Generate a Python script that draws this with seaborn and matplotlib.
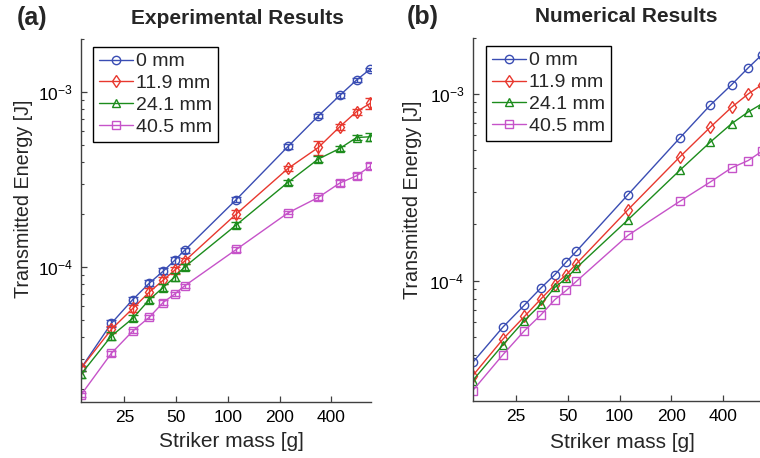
import numpy as np
import pandas as pd
import matplotlib
matplotlib.use("Agg")
import matplotlib.pyplot as plt
from matplotlib.ticker import NullLocator, NullFormatter, FixedLocator, FixedFormatter
import seaborn as sns

# striker masses [g]
masses = [14, 21, 28, 35, 42, 49, 56, 112, 224, 336, 448, 560, 672]
labels = ["0 mm", "11.9 mm", "24.1 mm", "40.5 mm"]

# experimental transmitted energy [J]
exp_0 = [2.64e-5, 4.76e-5, 6.52e-5, 8.1e-5, 9.45e-5, 1.09e-4, 1.245e-4, 2.43e-4, 4.89e-4, 7.3e-4, 9.57e-4, 1.17e-3, 1.35e-3]
exp_119 = [2.64e-5, 4.40e-5, 5.8e-5, 7.2e-5, 8.4e-5, 9.58e-5, 1.08e-4, 2.01e-4, 3.66e-4, 4.82e-4, 6.34e-4, 7.72e-4, 8.6e-4]
exp_241 = [2.44e-5, 4.03e-5, 5.09e-5, 6.52e-5, 7.63e-5, 8.77e-5, 1.0e-4, 1.74e-4, 3.05e-4, 4.14e-4, 4.76e-4, 5.49e-4, 5.55e-4]
exp_405 = [1.86e-5, 3.21e-5, 4.31e-5, 5.17e-5, 6.27e-5, 7.0e-5, 7.8e-5, 1.26e-4, 2.04e-4, 2.50e-4, 3.02e-4, 3.32e-4, 3.76e-4]

# relative error of the experiments
err_0 = [0.03, 0.05, 0.04, 0.04, 0.04, 0.04, 0.03, 0.03, 0.03, 0.03, 0.03, 0.03, 0.02]
err_119 = [0.03, 0.05, 0.04, 0.05, 0.05, 0.05, 0.04, 0.05, 0.03, 0.09, 0.04, 0.04, 0.07]
err_241 = [0.05, 0.05, 0.04, 0.04, 0.05, 0.05, 0.04, 0.04, 0.03, 0.04, 0.03, 0.03, 0.05]
err_405 = [0.03, 0.03, 0.03, 0.03, 0.03, 0.03, 0.03, 0.03, 0.02, 0.03, 0.04, 0.04, 0.04]

# numerical transmitted energy [J]
num_0 = [3.65e-5, 5.65e-5, 7.41e-5, 9.17e-5, 1.077e-4, 1.26e-4, 1.435e-4, 2.89e-4, 5.81e-4, 8.69e-4, 1.12e-3, 1.38e-3, 1.62e-3]
num_119 = [3.10e-5, 4.87e-5, 6.44e-5, 8.01e-5, 9.52e-5, 1.077e-4, 1.23e-4, 2.40e-4, 4.60e-4, 6.62e-4, 8.48e-4, 1.0e-3, 1.12e-3]
num_241 = [2.92e-5, 4.54e-5, 6.12e-5, 7.5e-5, 9.2e-5, 1.03e-4, 1.17e-4, 2.12e-4, 3.9e-4, 5.51e-4, 6.93e-4, 8.01e-4, 8.84e-4]
num_405 = [2.58e-5, 4.02e-5, 5.40e-5, 6.58e-5, 7.91e-5, 8.87e-5, 9.91e-5, 1.75e-4, 2.66e-4, 3.37e-4, 4.02e-4, 4.4e-4, 4.93e-4]

xticks = [25, 50, 100, 200, 400]
xticklabels = ["25", "50", "100", "200", "400"]

colors = ["#3a4db3", "#e8382e", "#1c8c1c", "#c653c9"]
markers = ["o", "d", "^", "s"]

sns.set_theme(style="ticks")
plt.rcParams["font.family"] = ["Liberation Sans", "DejaVu Sans"]
plt.rcParams["mathtext.fontset"] = "custom"
plt.rcParams["mathtext.rm"] = "Liberation Sans"

fig = plt.figure(figsize=(7.6, 4.58), dpi=100)
ax1 = fig.add_axes([0.1066, 0.1229, 0.3816, 0.7913])
ax2 = fig.add_axes([0.6220, 0.1245, 0.3816, 0.7932])

exp_sets = [exp_0, exp_119, exp_241, exp_405]
err_sets = [err_0, err_119, err_241, err_405]
num_sets = [num_0, num_119, num_241, num_405]


def draw_panel(ax, sets, errs, ylim, leg_anchor):
    for i, vals in enumerate(sets):
        df = pd.DataFrame({"mass": masses, "energy": vals})
        c = colors[i]
        sns.lineplot(data=df, x="mass", y="energy", ax=ax, color=c, marker=markers[i],
                     markersize=6, mfc="none", mec=c, mew=1.0, lw=1.0,
                     label=labels[i], errorbar=None)
        if errs is not None:
            yerr = np.array(vals) * np.array(errs[i])
            ax.errorbar(masses, vals, yerr=yerr, fmt="none", ecolor=c,
                        elinewidth=1.0, capsize=3.5, capthick=1.0)
    ax.set_xscale("log")
    ax.set_yscale("log")
    ax.set_xlim(14, 680)
    ax.set_ylim(*ylim)
    ax.xaxis.set_major_locator(FixedLocator(xticks))
    ax.xaxis.set_major_formatter(FixedFormatter(xticklabels))
    ax.xaxis.set_minor_locator(NullLocator())
    ax.yaxis.set_minor_formatter(NullFormatter())
    ax.tick_params(which="both", direction="in", top=False, right=False,
                   colors="#404040", labelcolor="black", labelsize=12.5, pad=6)
    ax.tick_params(which="major", length=4, width=0.9)
    ax.tick_params(which="minor", length=2.5, width=0.8)
    for s in ["top", "right"]:
        ax.spines[s].set_visible(False)
    for s in ["left", "bottom"]:
        ax.spines[s].set_color("#404040")
        ax.spines[s].set_linewidth(1.0)
    ax.set_xlabel("Striker mass [g]", fontsize=15, va="top")
    ax.set_ylabel("Transmitted Energy [J]", fontsize=14.2, va="center")
    leg = ax.legend(loc="upper left", bbox_to_anchor=leg_anchor, borderaxespad=0,
                    fontsize=14, handlelength=1.75, handletextpad=0.15,
                    labelspacing=0.22, borderpad=0.3, fancybox=False,
                    framealpha=1, edgecolor="black")
    leg.get_frame().set_linewidth(1.0)


draw_panel(ax1, exp_sets, err_sets, (1.7e-5, 2.0e-3), (0.041, 0.979))
draw_panel(ax2, num_sets, None, (2.27e-5, 2.0e-3), (0.046, 0.977))

ax1.xaxis.set_label_coords(0.517, -0.084)
ax2.xaxis.set_label_coords(0.517, -0.088)
ax1.yaxis.set_label_coords(-0.197, 0.559)
ax2.yaxis.set_label_coords(-0.208, 0.553)

fig.text(237.5 / 760, 1 - 18 / 458, "Experimental Results", fontsize=15, fontweight="bold",
         ha="center", va="center")
fig.text(625.8 / 760, 1 - 17 / 458, "Numerical Results", fontsize=15, fontweight="bold",
         ha="center", va="center")
fig.text(32.5 / 760, 1 - 18 / 458, "(a)", fontsize=18, fontweight="bold", ha="center", va="center")
fig.text(423 / 760, 1 - 17 / 458, "(b)", fontsize=18, fontweight="bold", ha="center", va="center")

fig.savefig("out.png", dpi=100)
